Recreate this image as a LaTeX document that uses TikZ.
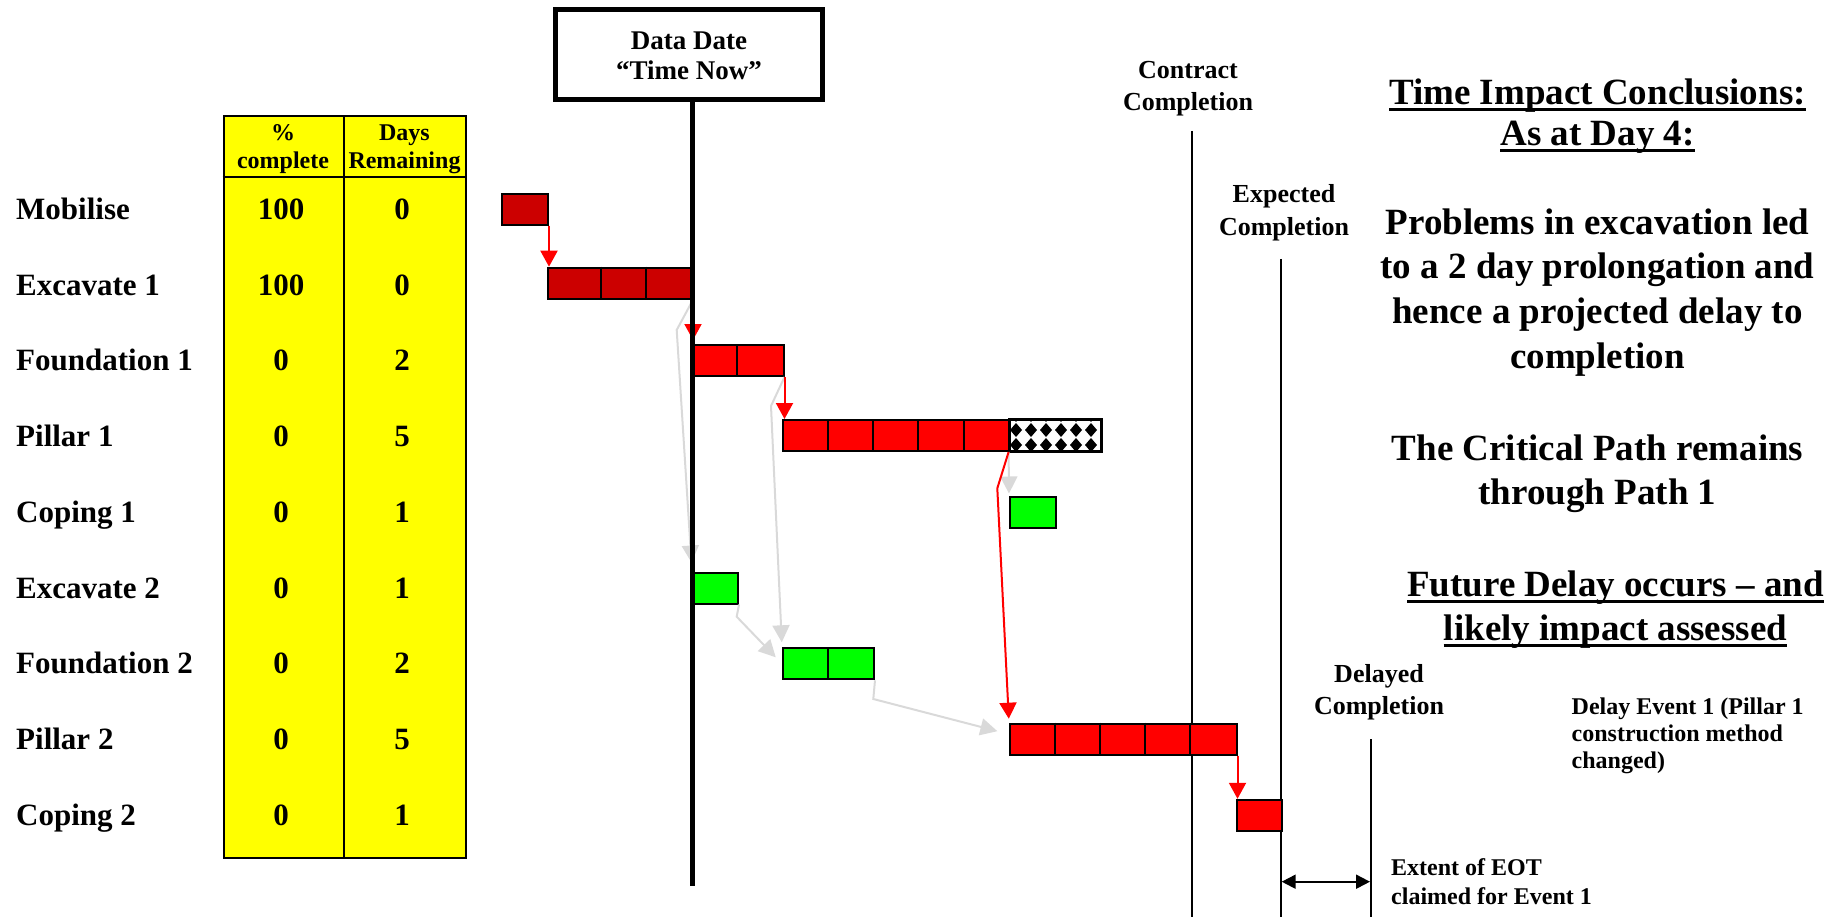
\documentclass[tikz,border=0pt]{standalone}
\usepackage{fontspec}
\setmainfont{Liberation Serif}
\usetikzlibrary{arrows.meta}
\definecolor{dkred}{HTML}{CC0000}
\definecolor{brred}{HTML}{FF0000}
\definecolor{brgreen}{HTML}{00FF00}
\definecolor{tblyellow}{HTML}{FFFF00}
\definecolor{linkgrey}{HTML}{D9D9D9}
\begin{document}
\begin{tikzpicture}[x=1pt,y=-1pt,
  barbox/.style={draw=black,line width=2pt,inner sep=0pt,anchor=north west,minimum height=31pt},
  divline/.style={line width=2pt},
  crit/.style={draw=brred,line width=2pt,-{Triangle[length=16pt,width=17pt]}},
  noncrit/.style={draw=linkgrey,line width=2pt,-{Triangle[length=17pt,width=17pt]}},
  rowlbl/.style={font=\fontsize{31}{37}\selectfont\bfseries,anchor=base west,inner sep=0pt},
  numlbl/.style={font=\fontsize{31}{37}\selectfont\bfseries,anchor=base,inner sep=0pt},
  hdr/.style={font=\fontsize{24}{29}\selectfont\bfseries,anchor=base,inner sep=0pt},
  ddtxt/.style={font=\fontsize{27}{32}\selectfont\bfseries,anchor=base,inner sep=0pt},
  milelbl/.style={font=\fontsize{26}{31}\selectfont\bfseries,anchor=base,inner sep=0pt},
  notelbl/.style={font=\fontsize{24}{29}\selectfont\bfseries,anchor=base west,inner sep=0pt},
  bigtxt/.style={font=\fontsize{37}{44}\selectfont\bfseries,anchor=base,inner sep=0pt},
  mileline/.style={line width=2pt},
  uline/.style={line width=3pt}
]
\useasboundingbox (0,0) rectangle (1839,917);

% ---------------- table ----------------
\node[draw=black,line width=2pt,fill=tblyellow,inner sep=0pt,anchor=north west,
      minimum width=242.5pt,minimum height=741.5pt] (tbl) at (222.5,115.5) {};
\draw[divline] (222.5,176.7) -- (465,176.7);
\draw[divline] (344,115.5) -- (344,857);
\node[hdr] (h1a) at (283,141) {\%};
\node[hdr] (h1b) at (283,169) {complete};
\node[hdr] (h2a) at (404.5,141) {Days};
\node[hdr] (h2b) at (404.5,169) {Remaining};

% row labels and numbers
\node[rowlbl] (l1) at (16,219.5) {Mobilise};
\node[rowlbl] (l2) at (16,295.2) {Excavate 1};
\node[rowlbl] (l3) at (16,370.9) {Foundation 1};
\node[rowlbl] (l4) at (16,446.6) {Pillar 1};
\node[rowlbl] (l5) at (16,522.3) {Coping 1};
\node[rowlbl] (l6) at (16,598.0) {Excavate 2};
\node[rowlbl] (l7) at (16,673.7) {Foundation 2};
\node[rowlbl] (l8) at (16,749.4) {Pillar 2};
\node[rowlbl] (l9) at (16,825.1) {Coping 2};

\node[numlbl] (a1) at (281,219.5) {100};
\node[numlbl] (a2) at (281,295.2) {100};
\node[numlbl] (a3) at (281,370.9) {0};
\node[numlbl] (a4) at (281,446.6) {0};
\node[numlbl] (a5) at (281,522.3) {0};
\node[numlbl] (a6) at (281,598.0) {0};
\node[numlbl] (a7) at (281,673.7) {0};
\node[numlbl] (a8) at (281,749.4) {0};
\node[numlbl] (a9) at (281,825.1) {0};

\node[numlbl] (b1) at (402,219.5) {0};
\node[numlbl] (b2) at (402,295.2) {0};
\node[numlbl] (b3) at (402,370.9) {2};
\node[numlbl] (b4) at (402,446.6) {5};
\node[numlbl] (b5) at (402,522.3) {1};
\node[numlbl] (b6) at (402,598.0) {1};
\node[numlbl] (b7) at (402,673.7) {2};
\node[numlbl] (b8) at (402,749.4) {5};
\node[numlbl] (b9) at (402,825.1) {1};

% ---------------- milestone lines ----------------
\coordinate (ccTop) at (1191.6,131);
\coordinate (ccBot) at (1191.6,917);
\coordinate (ecTop) at (1280.7,259);
\coordinate (ecBot) at (1280.7,917);
\coordinate (dcTop) at (1371,739);
\coordinate (dcBot) at (1371,917);
\draw[mileline] (ccTop) -- (ccBot);
\draw[mileline] (ecTop) -- (ecBot);
\draw[mileline] (dcTop) -- (dcBot);

% ---------------- bars ----------------
\node[barbox,fill=dkred,minimum width=46pt] (mob) at (501,192.7) {};
\node[barbox,fill=dkred,minimum width=144.5pt] (exc1) at (546.5,266.7) {};
\draw[divline] (601,266.7) -- (601,297.7);
\draw[divline] (646,266.7) -- (646,297.7);

\node[barbox,fill=brred,minimum width=90.5pt] (fnd1) at (692,344) {};
\draw[divline] (737,344) -- (737,375);

\node[barbox,fill=brred,minimum width=226.6pt] (pil1) at (782,419) {};
\foreach \xx in {827.5,873,918,963.5} \draw[divline] (\xx,419) -- (\xx,450);
\node[barbox,fill=white,minimum width=91.4pt] (pil1x) at (1008.6,419) {};
\begin{scope}
  \clip (1008.6,419) rectangle (1100,450);
  \foreach \k in {0,...,5}
    \foreach \r in {415,430,445}
      \fill[black] ({1016+15*\k},{\r-7}) -- ({1016+15*\k+6},\r) -- ({1016+15*\k},{\r+7}) -- ({1016+15*\k-6},\r) -- cycle;
\end{scope}
\draw[divline] (pil1x.north west) rectangle (pil1x.south east);

\node[barbox,fill=brgreen,minimum width=45.5pt] (cop1) at (1009,495.5) {};
\node[barbox,fill=brgreen,minimum width=45pt] (exc2) at (692,571.5) {};
\node[barbox,fill=brgreen,minimum width=91pt] (fnd2) at (782,647.3) {};
\draw[divline] (828,647.3) -- (828,678.3);

\node[barbox,fill=brred,minimum width=226.5pt] (pil2) at (1009,722.7) {};
\foreach \xx in {1054.5,1100,1145,1190} \draw[divline] (\xx,722.7) -- (\xx,753.7);
\node[barbox,fill=brred,minimum width=45.5pt] (cop2) at (1235.5,798.8) {};

% ---------------- links ----------------
\coordinate (bendA) at (997.3,488.3);
\coordinate (bendB) at (676.7,330);
\coordinate (bendC) at (771,406);
\coordinate (bendD) at (736.7,616.7);
\coordinate (bendE) at (873.3,699);

\draw[noncrit,shorten >=9pt] (exc1.south east) -- (bendB) -- (exc2.north west);
\draw[noncrit,shorten >=5pt] (fnd1.south east) -- (bendC) -- (fnd2.north west);
\draw[noncrit,shorten >=2pt] (pil1x.south west) -- (cop1.north west);
\draw[noncrit,shorten >=9pt] (exc2.south east) -- (bendD) -- (fnd2.west);
\draw[noncrit,shorten >=12pt] (fnd2.south east) -- (bendE) -- ([yshift=5pt]pil2.west);

\draw[crit] (mob.south east) -- (mob.south east |- exc1.north);
\draw[crit,shorten >=4pt] (exc1.south east) -- (exc1.south east |- fnd1.north);
\draw[crit] (fnd1.south east) -- (fnd1.south east |- pil1.north);
\draw[crit,shorten >=4pt] (pil1x.south west) -- (bendA) -- (pil2.north west);
\draw[crit] (pil2.south east) -- (pil2.south east |- cop2.north);

% ---------------- data date ----------------
\node[draw=black,line width=5pt,inner sep=0pt,minimum width=267pt,minimum height=90pt] (ddbox) at (689,54.5) {};
\node[ddtxt] (dd1) at (689,49.5) {Data Date};
\node[ddtxt] (dd2) at (689,80) {“Time Now”};
\coordinate (ddTop) at (692,99.5);
\coordinate (ddBot) at (692,886);
\draw[line width=5pt] (ddTop) -- (ddBot);

% ---------------- milestone labels ----------------
\node[milelbl] (cc1) at (1188,79) {Contract};
\node[milelbl] (cc2) at (1188,110.5) {Completion};
\node[milelbl] (ec1) at (1284,203) {Expected};
\node[milelbl] (ec2) at (1284,235.5) {Completion};
\node[milelbl] (dc1) at (1379,682) {Delayed};
\node[milelbl] (dc2) at (1379,714) {Completion};

\node[notelbl] (de1) at (1571.5,714) {Delay Event 1 (Pillar 1};
\node[notelbl] (de2) at (1571.5,741) {construction method};
\node[notelbl] (de3) at (1571.5,768) {changed)};

\coordinate (eotL) at (1281.7,881.7);
\coordinate (eotR) at (1370,881.7);
\draw[line width=2pt,{Triangle[length=14pt,width=14pt]}-{Triangle[length=14pt,width=14pt]}] (eotL) -- (eotR);
\node[notelbl] (eo1) at (1391,875) {Extent of EOT};
\node[notelbl] (eo2) at (1391,904) {claimed for Event 1};

% ---------------- conclusions ----------------
\node[bigtxt] (t1) at (1597.5,104.5) {Time Impact Conclusions:};
\node[bigtxt] (t2) at (1597.5,145.5) {As at Day 4:};
\node[bigtxt] (t3) at (1597.5,234.5) {Problems in excavation led};
\node[bigtxt] (t4) at (1597.5,279) {to a 2 day prolongation and};
\node[bigtxt] (t5) at (1597.5,323.5) {hence a projected delay to};
\node[bigtxt] (t6) at (1597.5,368) {completion};
\node[bigtxt] (t7) at (1597.5,460) {The Critical Path remains};
\node[bigtxt] (t8) at (1597.5,504.5) {through Path 1};
\node[bigtxt] (t9) at (1615.5,596) {Future Delay occurs – and};
\node[bigtxt] (t10) at (1615.5,640.5) {likely impact assessed};
\foreach \n in {t1,t2,t9,t10}
  \draw[uline] ([yshift=-5pt]\n.base west) -- ([yshift=-5pt]\n.base east);
\end{tikzpicture}
\end{document}
